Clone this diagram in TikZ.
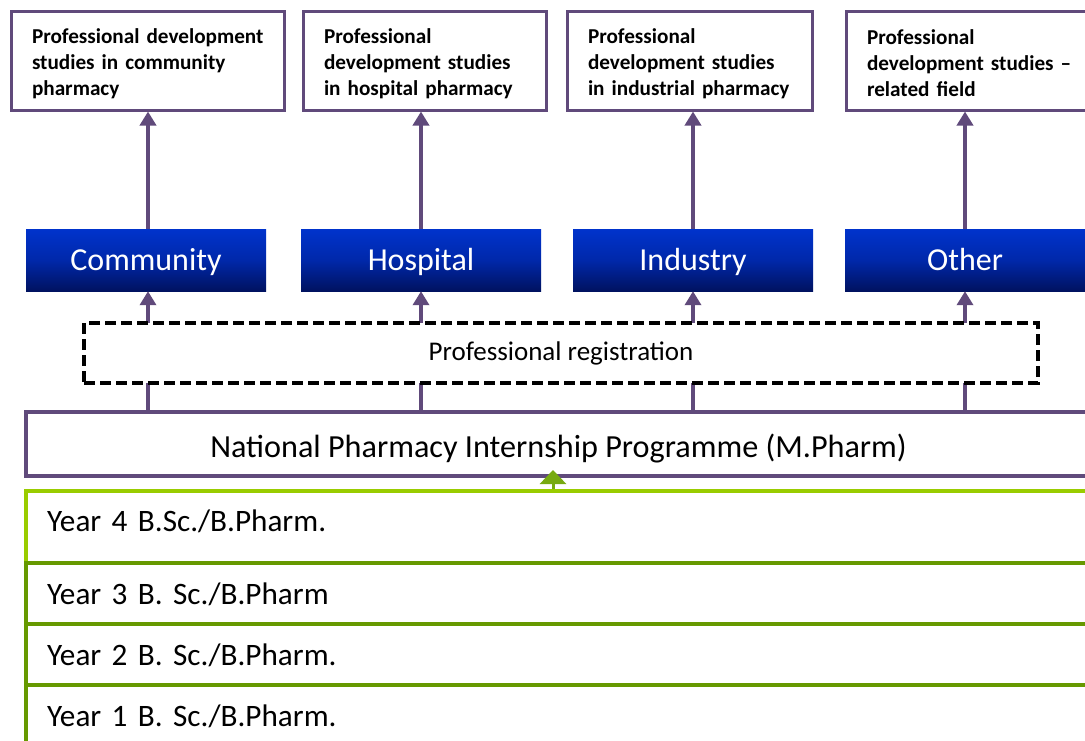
\documentclass[tikz,border=0pt]{standalone}
\usepackage{fontspec}
\setmainfont{Carlito}
\usetikzlibrary{arrows.meta}
\definecolor{purp}{RGB}{96,74,123}
\definecolor{lgreen}{RGB}{153,204,0}
\definecolor{dgreen}{RGB}{102,153,0}
\definecolor{agreen}{RGB}{119,170,17}
\definecolor{btop}{RGB}{0,51,204}
\definecolor{bmid}{RGB}{0,40,170}
\definecolor{bbot}{RGB}{0,18,96}
\newcommand{\topstrut}{\rule{0pt}{21pt}}
\tikzset{
  x=1pt, y=-1pt,
  studybox/.style={draw=purp, line width=3pt, fill=white, inner xsep=21pt, inner ysep=0pt,
    minimum height=99pt, align=left, font=\fontsize{21.2}{26}\selectfont\bfseries},
  areabox/.style={inner sep=0pt, minimum width=240pt, minimum height=62pt,
    top color=btop, bottom color=bbot, middle color=bmid, text=white,
    text height=26pt, text depth=6pt,
    font=\fontsize{32}{36}\selectfont},
  regbox/.style={draw=black, dash pattern=on 11pt off 5pt, line width=3.5pt, fill=white,
    minimum width=954pt, minimum height=60pt, inner sep=0pt,
    font=\fontsize{27}{30}\selectfont},
  npipbox/.style={draw=purp, line width=4pt, fill=white, minimum width=1065pt,
    minimum height=64pt, inner sep=0pt, text height=30pt, text depth=4pt,
    font=\fontsize{32.2}{36}\selectfont},
  yearbox/.style={line width=4pt, fill=white, minimum width=1065pt, inner xsep=21pt,
    inner ysep=0pt, text width=1023pt, align=left, text height=27pt, text depth=6pt,
    font=\fontsize{31.2}{36}\selectfont},
  parrow/.style={draw=purp, line width=3.5pt, -{Triangle[width=16pt,length=14pt]}},
  garrow/.style={draw=agreen, line width=3pt, -{Triangle[width=26pt,length=14pt]}},
}
\begin{document}
\begin{tikzpicture}
\useasboundingbox (0,0) rectangle (1085,740);
\fill[white] (0,0) rectangle (1085,740);
% top study boxes
\node[studybox, minimum width=273pt, text width=231pt] (s1) at (147.5,60.5)
  {\topstrut\mbox{Professional development}\\\mbox{studies in community}\\\mbox{pharmacy}};
\node[studybox, minimum width=243pt, text width=201pt] (s2) at (424.5,60.5)
  {\topstrut\mbox{Professional}\\\mbox{development studies}\\\mbox{in hospital pharmacy}};
\node[studybox, minimum width=245pt, text width=203pt] (s3) at (689.5,60.5)
  {\topstrut\mbox{Professional}\\\mbox{development studies}\\\mbox{in industrial pharmacy}};
\node[studybox, minimum width=245pt, text width=203pt] (s4) at (968.5,60.5)
  {\topstrut\mbox{Professional}\\\mbox{development studies –}\\\mbox{related field}};
% blue area boxes
\node[areabox] (b1) at (146,260) {Community};
\node[areabox] (b2) at (421,260) {Hospital};
\node[areabox] (b3) at (693,260) {Industry};
\node[areabox] (b4) at (965,260) {Other};
% internship
\node[npipbox] (npip) at (558.5,444) {National Pharmacy Internship Programme (M.Pharm)};
% years
\node[yearbox, draw=lgreen, minimum height=72pt, text height=24pt, text depth=16pt] (y4) at (558.5,527) {Year 4 B.Sc./B.Pharm.};
\node[yearbox, draw=dgreen, minimum height=61pt] (y3) at (558.5,593.5) {Year 3 B. Sc./B.Pharm};
\node[yearbox, draw=dgreen, minimum height=61pt] (y2) at (558.5,654.5) {Year 2 B. Sc./B.Pharm.};
\node[yearbox, draw=dgreen, minimum height=61pt] (y1) at (558.5,715.5) {Year 1 B. Sc./B.Pharm.};
% arrows blue -> study boxes
\draw[parrow] ([xshift=2pt]b1.north) -- ([xshift=2pt]b1.north |- s1.south);
\draw[parrow] (b2.north) -- (b2.north |- s2.south);
\draw[parrow] (b3.north) -- (b3.north |- s3.south);
\draw[parrow] (b4.north) -- (b4.north |- s4.south);
% arrows internship -> blue
\draw[parrow] ([xshift=2pt]b1.south |- npip.north) -- ([xshift=2pt]b1.south);
\draw[parrow] (b2.south |- npip.north) -- (b2.south);
\draw[parrow] (b3.south |- npip.north) -- (b3.south);
\draw[parrow] (b4.south |- npip.north) -- (b4.south);
% registration dashed box over the lines
\node[regbox] (reg) at (561,353) {Professional registration};
% green arrow
\draw[garrow] ([xshift=-5.5pt]y4.north) -- ([xshift=-5.5pt,yshift=8pt]npip.south);
\end{tikzpicture}
\end{document}
